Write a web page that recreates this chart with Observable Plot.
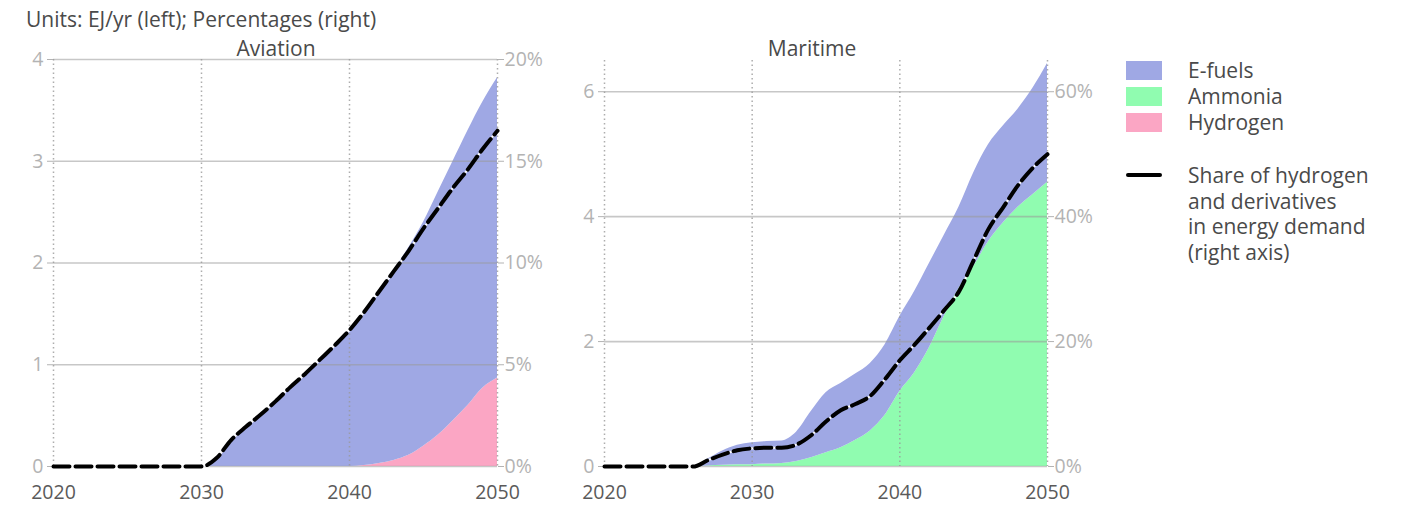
<!DOCTYPE html>
<html><head><meta charset="utf-8">
<script src="https://cdn.jsdelivr.net/npm/d3@7"></script>
<script src="https://cdn.jsdelivr.net/npm/@observablehq/plot@0.6"></script>
<style>
body{margin:0;background:#fff;font-family:"Open Sans",Lato,sans-serif;}
#wrap{position:relative;width:1406px;height:507px;overflow:hidden;background:#fff;}
.txt{position:absolute;white-space:nowrap;color:#4a4a4a;font-size:21px;line-height:21px;}
.sw{position:absolute;left:1126px;width:36px;height:19px;}
</style></head><body>
<div id="wrap">
  <div class="txt" style="left:26px;top:8.5px;">Units: EJ/yr (left); Percentages (right)</div>
  <div class="txt" style="left:276px;top:37.5px;transform:translateX(-50%);">Aviation</div>
  <div class="txt" style="left:812px;top:37.5px;transform:translateX(-50%);">Maritime</div>
  <div id="legend"></div>
</div>
<script>
// ---- data ----
const years = [2020,2021,2022,2023,2024,2025,2026,2027,2028,2029,2030,2031,2032,2033,2034,2035,2036,2037,2038,2039,2040,2041,2042,2043,2044,2045,2046,2047,2048,2049,2050];

const aviationEfuels   = [0,0,0,0,0,0,0,0,0,0,0,0.08,0.26,0.39,0.51,0.64,0.78,0.91,1.05,1.19,1.34,1.51,1.69,1.87,2.04,2.20,2.39,2.55,2.70,2.81,2.95];
const aviationHydrogen = [0,0,0,0,0,0,0,0,0,0,0,0,0,0,0,0,0,0,0,0,0,0.01,0.03,0.06,0.11,0.20,0.31,0.45,0.60,0.77,0.87];
const aviationShare    = [0,0,0,0,0,0,0,0,0,0,0,0.4,1.3,1.95,2.55,3.2,3.9,4.55,5.25,5.95,6.7,7.6,8.6,9.6,10.6,11.7,12.7,13.7,14.6,15.6,16.5];

const maritimeEfuels   = [0,0,0,0,0,0,0,0.11,0.23,0.31,0.35,0.36,0.36,0.47,0.74,0.96,1.03,1.06,1.08,1.13,1.20,1.30,1.35,1.30,1.30,1.50,1.55,1.55,1.57,1.70,1.90];
const maritimeAmmonia  = [0,0,0,0,0,0,0,0.01,0.02,0.03,0.03,0.04,0.05,0.08,0.14,0.22,0.30,0.42,0.57,0.82,1.20,1.50,1.90,2.40,2.85,3.20,3.60,3.90,4.15,4.35,4.55];
const maritimeShare    = [0,0,0,0,0,0,0,1.0,1.9,2.6,2.9,3.0,3.0,3.5,5.0,7.2,9.0,10.0,11.3,14.0,17.0,19.5,22.2,25.0,28.0,33.0,38.0,41.5,45.0,47.8,50.0];

const xTicks = [2020,2030,2040,2050];
const aviationLeftTicks  = [0,1,2,3,4];
const aviationRightTicks = [0,5,10,15,20];
const maritimeLeftTicks  = [0,2,4,6];
const maritimeRightTicks = [0,20,40,60];

const fuelNames  = ["E-fuels","Ammonia","Hydrogen"];
const fuelColors = ["#9fa8e4","#90fcb0","#fba6c4"];
const shareLabel = ["Share of hydrogen","and derivatives","in energy demand","(right axis)"];

// ---- drawing ----
const wrap = document.getElementById("wrap");
function place(svg, left){
  svg.style.position = "absolute";
  svg.style.left = left + "px";
  svg.style.top = "0px";
  wrap.appendChild(svg);
}
const baseStyle = {fontFamily:"'Open Sans', Lato, sans-serif", fontSize:"19.5px", background:"transparent", overflow:"visible"};

function panel({left, ml, mr, mt, yMax, leftTicks, rightMax, rightTicks, efuels, bottom, bottomName, share}){
  const rows = [];
  years.forEach((yr,i)=>{
    rows.push({year:yr, fuel:bottomName, value:bottom[i]});
    rows.push({year:yr, fuel:"E-fuels", value:efuels[i]});
  });
  const shareRows = years.map((yr,i)=>({year:yr, share:share[i]}));
  const dims = {width:560, height:507, marginLeft:ml, marginRight:mr, marginTop:mt, marginBottom:41, style:baseStyle};

  const base = Plot.plot({
    ...dims,
    x:{domain:[2020,2050]},
    y:{domain:[0,yMax]},
    color:{domain:fuelNames, range:fuelColors},
    marks:[
      Plot.areaY(rows,{x:"year", y:"value", fill:"fuel", order:[bottomName,"E-fuels"], curve:"monotone-x"}),
      Plot.ruleY(leftTicks,{stroke:"#999", strokeOpacity:0.55, strokeWidth:1.6}),
      Plot.ruleX(xTicks,{stroke:"#999", strokeOpacity:0.8, strokeWidth:1.5, strokeDasharray:"1.5,3"}),
      Plot.axisY({ticks:leftTicks, tickSize:6, tickPadding:4, color:"#b3b3b3", fontSize:19.5, label:null, tickFormat:d=>String(d)}),
      Plot.axisX({ticks:xTicks, tickSize:0, tickPadding:19, color:"#5a5a5a", fontSize:19.5, label:null, tickFormat:d=>String(d)})
    ]
  });
  place(base, left);

  const over = Plot.plot({
    ...dims,
    x:{domain:[2020,2050], axis:null},
    y:{domain:[0,rightMax]},
    marks:[
      Plot.lineY(shareRows,{x:"year", y:"share", stroke:"white", strokeWidth:2, curve:"monotone-x"}),
      Plot.lineY(shareRows,{x:"year", y:"share", stroke:"black", strokeWidth:4, strokeDasharray:"16,6", curve:"monotone-x"}),
      Plot.axisY({anchor:"right", ticks:rightTicks, tickSize:6, tickPadding:1, color:"#b3b3b3", fontSize:19.5, label:null, tickFormat:d=>d+"%"})
    ]
  });
  place(over, left);
}

panel({left:0, ml:53, mr:63, mt:59, yMax:4, leftTicks:aviationLeftTicks, rightMax:20, rightTicks:aviationRightTicks,
       efuels:aviationEfuels, bottom:aviationHydrogen, bottomName:"Hydrogen", share:aviationShare});
panel({left:560, ml:44, mr:73, mt:60, yMax:6.5, leftTicks:maritimeLeftTicks, rightMax:65, rightTicks:maritimeRightTicks,
       efuels:maritimeEfuels, bottom:maritimeAmmonia, bottomName:"Ammonia", share:maritimeShare});

// ---- legend ----
const lg = document.getElementById("legend");
const swTops = [61, 87, 113];
fuelNames.forEach((n,i)=>{
  const s = document.createElement("div");
  s.className = "sw"; s.style.top = swTops[i]+"px"; s.style.background = fuelColors[i];
  lg.appendChild(s);
  const t = document.createElement("div");
  t.className = "txt"; t.style.left = "1188px"; t.style.top = (swTops[i]-1)+"px"; t.textContent = n;
  lg.appendChild(t);
});
const ln = document.createElement("div");
ln.style.cssText = "position:absolute;left:1126px;top:173px;width:36px;height:4px;background:#000;border-radius:2px;";
lg.appendChild(ln);
shareLabel.forEach((s,i)=>{
  const t = document.createElement("div");
  t.className = "txt"; t.style.left = "1188px"; t.style.top = (165 + i*25.5)+"px"; t.textContent = s;
  lg.appendChild(t);
});
</script>
</body></html>
